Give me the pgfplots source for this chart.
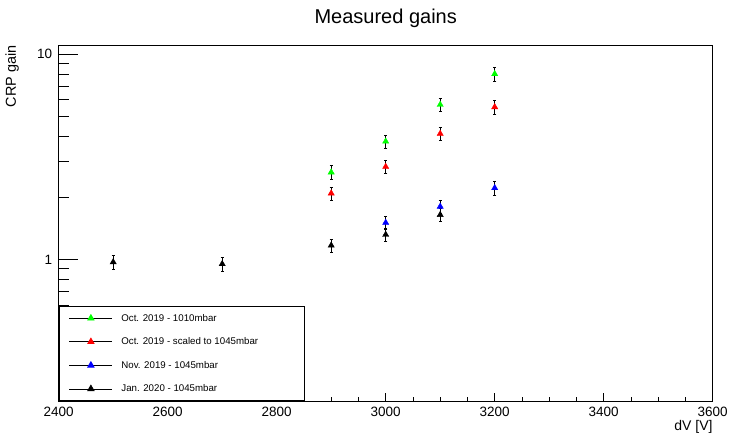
\documentclass[border=0pt]{standalone}
\usepackage{fontspec}
\setmainfont{Liberation Sans}
\usepackage{pgfplots}
\pgfplotsset{compat=1.18}
\begin{document}
\begin{tikzpicture}
\path[use as bounding box] (0pt,0pt) rectangle (731pt,433pt);
% background axis: y ticks only
\begin{axis}[at={(58.7pt,32pt)}, anchor=south west, scale only axis,
  width=654pt, height=355.5pt,
  xmin=2400, xmax=3600, ymode=log, ymin=0.204, ymax=11.04,
  xtick=\empty, ytick={1,10}, yticklabels={1,10},
  minor ytick={0.2,0.3,0.4,0.5,0.6,0.7,0.8,0.9,2,3,4,5,6,7,8,9},
  ytick pos=left, tick align=inside,
  major tick length=19pt, minor tick length=10pt,
  yticklabel style={font=\fontsize{13.5}{13.5}\selectfont, inner sep=0pt, xshift=-6.4pt},
  /pgf/number format/assume math mode=true,
  axis line style={line width=0.8pt},
  tick style={line width=0.8pt, black},
  ]
\end{axis}
\begin{axis}[at={(58.7pt,32pt)}, anchor=south west, scale only axis,
  width=654pt, height=355.5pt,
  xmin=2400, xmax=3600, ymode=log, ymin=0.204, ymax=11.04,
  ytick=\empty, xtick={2400,2600,2800,3000,3200,3400,3600},
  minor x tick num=3, xtick pos=left, tick align=inside,
  major tick length=8pt, minor tick length=4pt,
  scaled x ticks=false,
  /pgf/number format/1000 sep={},
  /pgf/number format/assume math mode=true,
  xticklabel style={font=\fontsize{13.5}{13.5}\selectfont, inner sep=0pt, yshift=-5.7pt},
  axis line style={line width=0.8pt},
  tick style={line width=0.8pt, black},
  title={Measured gains},
  title style={at={(0.5,1.086)}, anchor=north, inner sep=0pt, font=\fontsize{20}{20}\selectfont},
  ylabel={CRP gain},
  ylabel style={at={(axis description cs:-0.0605,1)}, anchor=south east, inner sep=0pt, font=\fontsize{14.4}{14.4}\selectfont},
  xlabel={dV [V]},
  xlabel style={at={(axis description cs:1,-0.055)}, anchor=north east, inner sep=0pt, font=\fontsize{14}{14}\selectfont},
  legend cell align=left,
  legend style={at={(0,0)}, anchor=south west, draw=black, line width=0.8pt, fill=white,
    font=\fontsize{9.7}{9.7}\selectfont, inner xsep=10pt, inner ysep=7.5pt, row sep=15pt,
    nodes={inner sep=0pt},
    /tikz/every odd column/.append style={column sep=8.7pt}},
  legend image code/.code={\draw[black,line width=0.6pt] (0pt,0pt) -- (43pt,0pt);
    \draw[#1] plot coordinates {(21.5pt,0pt)};},
  ]
\addplot[only marks, mark=triangle*, mark size=3.6pt, color=green,
  error bars/.cd, y dir=both, y explicit relative,
  error bar style={black, line width=0.7pt},
  error mark options={rotate=90, black, mark size=1.6pt, line width=0.7pt}]
  coordinates {(2900,2.66) +- (0,0.075) (3000,3.76) +- (0,0.075) (3100,5.68) +- (0,0.075) (3200,8.02) +- (0,0.075)};
\addlegendentry{\makebox[173pt][l]{Oct. 2019 - 1010mbar}}
\addplot[only marks, mark=triangle*, mark size=3.6pt, color=red,
  error bars/.cd, y dir=both, y explicit relative,
  error bar style={black, line width=0.7pt},
  error mark options={rotate=90, black, mark size=1.6pt, line width=0.7pt}]
  coordinates {(2900,2.10) +- (0,0.075) (3000,2.83) +- (0,0.075) (3100,4.10) +- (0,0.075) (3200,5.53) +- (0,0.075)};
\addlegendentry{\makebox[173pt][l]{Oct. 2019 - scaled to 1045mbar}}
\addplot[only marks, mark=triangle*, mark size=3.6pt, color=blue,
  error bars/.cd, y dir=both, y explicit relative,
  error bar style={black, line width=0.7pt},
  error mark options={rotate=90, black, mark size=1.6pt, line width=0.7pt}]
  coordinates {(3000,1.51) +- (0,0.075) (3100,1.81) +- (0,0.075) (3200,2.23) +- (0,0.075)};
\addlegendentry{\makebox[173pt][l]{Nov. 2019 - 1045mbar}}
\addplot[only marks, mark=triangle*, mark size=3.6pt, color=black,
  error bars/.cd, y dir=both, y explicit relative,
  error bar style={black, line width=0.7pt},
  error mark options={rotate=90, black, mark size=1.6pt, line width=0.7pt}]
  coordinates {(2500,0.97) +- (0,0.075) (2700,0.95) +- (0,0.075) (2900,1.17) +- (0,0.075) (3000,1.32) +- (0,0.075) (3100,1.65) +- (0,0.075)};
\addlegendentry{\makebox[173pt][l]{Jan. 2020 - 1045mbar}}
\end{axis}
\end{tikzpicture}
\end{document}
